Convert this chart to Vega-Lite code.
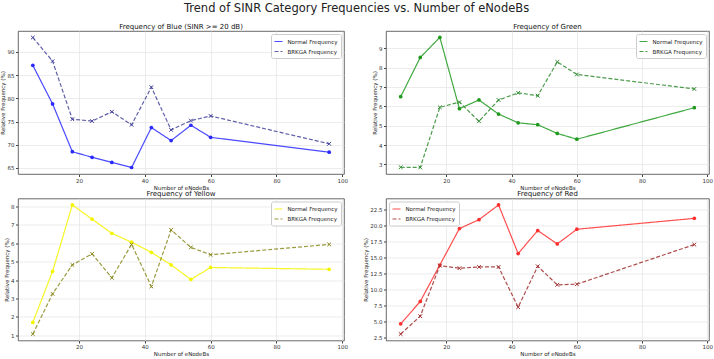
{
  "$schema": "https://vega.github.io/schema/vega-lite/v6.json",
  "padding": {"left": 0, "top": 2, "right": 0, "bottom": 0},
  "autosize": {"type": "pad"},
  "background": "white",
  "config": {
    "font": "DejaVu Sans",
    "view": {"stroke": "#444", "strokeWidth": 0.8},
    "axis": {"labelFontSize": 5.5, "titleFontSize": 5.5, "titleFontWeight": "normal", "labelColor": "#333", "titleColor": "#222", "gridColor": "#e4e4e4", "gridWidth": 0.7, "tickColor": "#444", "tickSize": 2.5, "labelPadding": 1.5, "domain": false, "titlePadding": 1.5},
    "legend": {"labelFontSize": 5.5, "labelColor": "#222", "fillColor": "white", "strokeColor": "#ccc", "padding": 2.5, "cornerRadius": 2, "symbolType": "stroke", "symbolSize": 64, "symbolStrokeWidth": 1.2, "rowPadding": 1, "offset": 3, "title": null, "labelLimit": 200, "labelOffset": 4},
    "title": {"fontSize": 7, "fontWeight": "normal", "color": "#111", "offset": 1.5}
  },
  "title": {"text": "Trend of SINR Category Frequencies vs. Number of eNodeBs", "fontSize": 11.5, "offset": 8, "color": "#222", "anchor": "middle", "frame": "bounds"},
  "datasets": {
    "d": [
      {"panel": "Blue", "n": 6, "Normal Frequency": 87.1, "BRKGA Frequency": 93.1},
      {"panel": "Blue", "n": 12, "Normal Frequency": 78.8, "BRKGA Frequency": 88.0},
      {"panel": "Blue", "n": 18, "Normal Frequency": 68.5, "BRKGA Frequency": 75.5},
      {"panel": "Blue", "n": 24, "Normal Frequency": 67.3, "BRKGA Frequency": 75.1},
      {"panel": "Blue", "n": 30, "Normal Frequency": 66.2, "BRKGA Frequency": 77.1},
      {"panel": "Blue", "n": 36, "Normal Frequency": 65.1, "BRKGA Frequency": 74.3},
      {"panel": "Blue", "n": 42, "Normal Frequency": 73.7, "BRKGA Frequency": 82.4},
      {"panel": "Blue", "n": 48, "Normal Frequency": 70.9, "BRKGA Frequency": 73.2},
      {"panel": "Blue", "n": 54, "Normal Frequency": 74.2, "BRKGA Frequency": 75.2},
      {"panel": "Blue", "n": 60, "Normal Frequency": 71.6, "BRKGA Frequency": 76.2},
      {"panel": "Blue", "n": 96, "Normal Frequency": 68.4, "BRKGA Frequency": 70.2},
      {"panel": "Green", "n": 6, "Normal Frequency": 6.5, "BRKGA Frequency": 2.85},
      {"panel": "Green", "n": 12, "Normal Frequency": 8.53, "BRKGA Frequency": 2.84},
      {"panel": "Green", "n": 18, "Normal Frequency": 9.57, "BRKGA Frequency": 5.95},
      {"panel": "Green", "n": 24, "Normal Frequency": 5.88, "BRKGA Frequency": 6.22},
      {"panel": "Green", "n": 30, "Normal Frequency": 6.33, "BRKGA Frequency": 5.23},
      {"panel": "Green", "n": 36, "Normal Frequency": 5.6, "BRKGA Frequency": 6.33},
      {"panel": "Green", "n": 42, "Normal Frequency": 5.15, "BRKGA Frequency": 6.7},
      {"panel": "Green", "n": 48, "Normal Frequency": 5.05, "BRKGA Frequency": 6.55},
      {"panel": "Green", "n": 54, "Normal Frequency": 4.6, "BRKGA Frequency": 8.3},
      {"panel": "Green", "n": 60, "Normal Frequency": 4.3, "BRKGA Frequency": 7.65},
      {"panel": "Green", "n": 96, "Normal Frequency": 5.93, "BRKGA Frequency": 6.9},
      {"panel": "Yellow", "n": 6, "Normal Frequency": 1.7, "BRKGA Frequency": 1.07},
      {"panel": "Yellow", "n": 12, "Normal Frequency": 4.47, "BRKGA Frequency": 3.25},
      {"panel": "Yellow", "n": 18, "Normal Frequency": 8.07, "BRKGA Frequency": 4.82},
      {"panel": "Yellow", "n": 24, "Normal Frequency": 7.3, "BRKGA Frequency": 5.42},
      {"panel": "Yellow", "n": 30, "Normal Frequency": 6.53, "BRKGA Frequency": 4.12},
      {"panel": "Yellow", "n": 36, "Normal Frequency": 6.05, "BRKGA Frequency": 5.93},
      {"panel": "Yellow", "n": 42, "Normal Frequency": 5.5, "BRKGA Frequency": 3.65},
      {"panel": "Yellow", "n": 48, "Normal Frequency": 4.82, "BRKGA Frequency": 6.72},
      {"panel": "Yellow", "n": 54, "Normal Frequency": 4.03, "BRKGA Frequency": 5.77},
      {"panel": "Yellow", "n": 60, "Normal Frequency": 4.68, "BRKGA Frequency": 5.37},
      {"panel": "Yellow", "n": 96, "Normal Frequency": 4.58, "BRKGA Frequency": 5.93},
      {"panel": "Red", "n": 6, "Normal Frequency": 4.6, "BRKGA Frequency": 3.0},
      {"panel": "Red", "n": 12, "Normal Frequency": 8.1, "BRKGA Frequency": 5.8},
      {"panel": "Red", "n": 18, "Normal Frequency": 13.8, "BRKGA Frequency": 13.7},
      {"panel": "Red", "n": 24, "Normal Frequency": 19.5, "BRKGA Frequency": 13.3},
      {"panel": "Red", "n": 30, "Normal Frequency": 20.9, "BRKGA Frequency": 13.5},
      {"panel": "Red", "n": 36, "Normal Frequency": 23.2, "BRKGA Frequency": 13.5},
      {"panel": "Red", "n": 42, "Normal Frequency": 15.6, "BRKGA Frequency": 7.2},
      {"panel": "Red", "n": 48, "Normal Frequency": 19.2, "BRKGA Frequency": 13.6},
      {"panel": "Red", "n": 54, "Normal Frequency": 17.1, "BRKGA Frequency": 10.7},
      {"panel": "Red", "n": 60, "Normal Frequency": 19.4, "BRKGA Frequency": 10.8},
      {"panel": "Red", "n": 96, "Normal Frequency": 21.1, "BRKGA Frequency": 17.0}
    ]
  },
  "columns": 2,
  "spacing": {"row": -1.5, "column": 13},
  "concat": [
    {
      "width": 326, "height": 143,
      "title": "Frequency of Blue (SINR >= 20 dB)",
      "data": {"name": "d"},
      "transform": [{"filter": "datum.panel === 'Blue'"}],
      "encoding": {
        "x": {"field": "n", "type": "quantitative", "scale": {"domain": [1.5, 100.5], "nice": false}, "axis": {"values": [20, 40, 60, 80, 100], "title": "Number of eNodeBs"}},
        "y": {"type": "quantitative", "scale": {"domain": [63.7, 94.5], "nice": false, "zero": false}, "axis": {"values": [65, 70, 75, 80, 85, 90], "title": "Relative Frequency (%)"}}
      },
      "layer": [
        {"transform": [{"fold": ["Normal Frequency", "BRKGA Frequency"], "as": ["series", "value"]}], "mark": {"type": "line", "strokeWidth": 1.2, "opacity": 0.85}, "encoding": {
          "y": {"field": "value", "type": "quantitative"},
          "color": {"field": "series", "type": "nominal", "scale": {"domain": ["Normal Frequency", "BRKGA Frequency"], "range": ["#2a2aff", "#44449c"]}, "legend": {"orient": "top-right"}},
          "strokeDash": {"field": "series", "type": "nominal", "scale": {"domain": ["Normal Frequency", "BRKGA Frequency"], "range": [[1, 0], [4, 2]]}, "legend": {"orient": "top-right"}}}},
        {"mark": {"type": "point", "shape": "circle", "filled": true, "size": 14, "opacity": 1, "color": "#2a2aff"}, "encoding": {"y": {"field": "Normal Frequency", "type": "quantitative"}}},
        {"mark": {"type": "point", "shape": "M-1,-1L1,1M-1,1L1,-1", "filled": false, "size": 14, "opacity": 1, "strokeWidth": 1, "color": "#44449c"}, "encoding": {"y": {"field": "BRKGA Frequency", "type": "quantitative"}}}
      ]
    },
    {
      "width": 323, "height": 143,
      "title": "Frequency of Green",
      "data": {"name": "d"},
      "transform": [{"filter": "datum.panel === 'Green'"}],
      "encoding": {
        "x": {"field": "n", "type": "quantitative", "scale": {"domain": [1.5, 100.5], "nice": false}, "axis": {"values": [20, 40, 60, 80, 100], "title": "Number of eNodeBs"}},
        "y": {"type": "quantitative", "scale": {"domain": [2.5, 9.9], "nice": false, "zero": false}, "axis": {"values": [3, 4, 5, 6, 7, 8, 9], "title": "Relative Frequency (%)"}}
      },
      "layer": [
        {"transform": [{"fold": ["Normal Frequency", "BRKGA Frequency"], "as": ["series", "value"]}], "mark": {"type": "line", "strokeWidth": 1.2, "opacity": 0.85}, "encoding": {
          "y": {"field": "value", "type": "quantitative"},
          "color": {"field": "series", "type": "nominal", "scale": {"domain": ["Normal Frequency", "BRKGA Frequency"], "range": ["#1f9a1f", "#2f8a2f"]}, "legend": {"orient": "top-right"}},
          "strokeDash": {"field": "series", "type": "nominal", "scale": {"domain": ["Normal Frequency", "BRKGA Frequency"], "range": [[1, 0], [4, 2]]}, "legend": {"orient": "top-right"}}}},
        {"mark": {"type": "point", "shape": "circle", "filled": true, "size": 14, "opacity": 1, "color": "#1f9a1f"}, "encoding": {"y": {"field": "Normal Frequency", "type": "quantitative"}}},
        {"mark": {"type": "point", "shape": "M-1,-1L1,1M-1,1L1,-1", "filled": false, "size": 14, "opacity": 1, "strokeWidth": 1, "color": "#2f8a2f"}, "encoding": {"y": {"field": "BRKGA Frequency", "type": "quantitative"}}}
      ]
    },
    {
      "width": 326, "height": 142,
      "title": "Frequency of Yellow",
      "data": {"name": "d"},
      "transform": [{"filter": "datum.panel === 'Yellow'"}],
      "encoding": {
        "x": {"field": "n", "type": "quantitative", "scale": {"domain": [1.5, 100.5], "nice": false}, "axis": {"values": [20, 40, 60, 80, 100], "title": "Number of eNodeBs"}},
        "y": {"type": "quantitative", "scale": {"domain": [0.72, 8.42], "nice": false, "zero": false}, "axis": {"values": [1, 2, 3, 4, 5, 6, 7, 8], "title": "Relative Frequency (%)"}}
      },
      "layer": [
        {"transform": [{"fold": ["Normal Frequency", "BRKGA Frequency"], "as": ["series", "value"]}], "mark": {"type": "line", "strokeWidth": 1.2, "opacity": 0.85}, "encoding": {
          "y": {"field": "value", "type": "quantitative"},
          "color": {"field": "series", "type": "nominal", "scale": {"domain": ["Normal Frequency", "BRKGA Frequency"], "range": ["#f5f500", "#8a8a20"]}, "legend": {"orient": "top-right"}},
          "strokeDash": {"field": "series", "type": "nominal", "scale": {"domain": ["Normal Frequency", "BRKGA Frequency"], "range": [[1, 0], [4, 2]]}, "legend": {"orient": "top-right"}}}},
        {"mark": {"type": "point", "shape": "circle", "filled": true, "size": 14, "opacity": 1, "color": "#f5f500"}, "encoding": {"y": {"field": "Normal Frequency", "type": "quantitative"}}},
        {"mark": {"type": "point", "shape": "M-1,-1L1,1M-1,1L1,-1", "filled": false, "size": 14, "opacity": 1, "strokeWidth": 1, "color": "#8a8a20"}, "encoding": {"y": {"field": "BRKGA Frequency", "type": "quantitative"}}}
      ]
    },
    {
      "width": 323, "height": 142,
      "title": "Frequency of Red",
      "data": {"name": "d"},
      "transform": [{"filter": "datum.panel === 'Red'"}],
      "encoding": {
        "x": {"field": "n", "type": "quantitative", "scale": {"domain": [1.5, 100.5], "nice": false}, "axis": {"values": [20, 40, 60, 80, 100], "title": "Number of eNodeBs"}},
        "y": {"type": "quantitative", "scale": {"domain": [1.99, 24.21], "nice": false, "zero": false}, "axis": {"values": [2.5, 5, 7.5, 10, 12.5, 15, 17.5, 20, 22.5], "format": ".1f", "title": "Relative Frequency (%)"}}
      },
      "layer": [
        {"transform": [{"fold": ["Normal Frequency", "BRKGA Frequency"], "as": ["series", "value"]}], "mark": {"type": "line", "strokeWidth": 1.2, "opacity": 0.85}, "encoding": {
          "y": {"field": "value", "type": "quantitative"},
          "color": {"field": "series", "type": "nominal", "scale": {"domain": ["Normal Frequency", "BRKGA Frequency"], "range": ["#ff3030", "#a03030"]}, "legend": {"orient": "top-left"}},
          "strokeDash": {"field": "series", "type": "nominal", "scale": {"domain": ["Normal Frequency", "BRKGA Frequency"], "range": [[1, 0], [4, 2]]}, "legend": {"orient": "top-left"}}}},
        {"mark": {"type": "point", "shape": "circle", "filled": true, "size": 14, "opacity": 1, "color": "#ff3030"}, "encoding": {"y": {"field": "Normal Frequency", "type": "quantitative"}}},
        {"mark": {"type": "point", "shape": "M-1,-1L1,1M-1,1L1,-1", "filled": false, "size": 14, "opacity": 1, "strokeWidth": 1, "color": "#a03030"}, "encoding": {"y": {"field": "BRKGA Frequency", "type": "quantitative"}}}
      ]
    }
  ],
  "resolve": {"scale": {"color": "independent", "strokeDash": "independent", "x": "independent", "y": "independent"}, "legend": {"color": "independent", "strokeDash": "independent"}, "axis": {"x": "independent", "y": "independent"}}
}
